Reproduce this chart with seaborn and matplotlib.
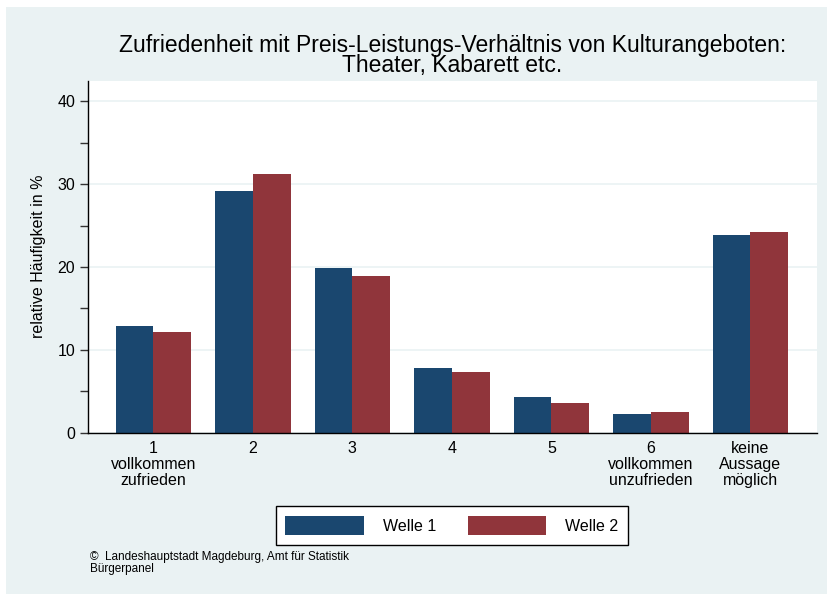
import numpy as np
import pandas as pd
import matplotlib
matplotlib.use("Agg")
import matplotlib.pyplot as plt
from matplotlib.patches import Rectangle
from matplotlib.ticker import MultipleLocator
import seaborn as sns

# Daten (relative Häufigkeit in %)
kategorien = ["1\nvollkommen\nzufrieden", "2", "3", "4", "5",
              "6\nvollkommen\nunzufrieden", "keine\nAussage\nmöglich"]
welle1 = [12.9, 29.2, 19.9, 7.8, 4.35, 2.2, 23.9]
welle2 = [12.2, 31.2, 18.9, 7.3, 3.6, 2.5, 24.2]
wellen = ["Welle 1", "Welle 2"]

df = pd.DataFrame({
    "kategorie": kategorien * 2,
    "wert": welle1 + welle2,
    "welle": [wellen[0]] * len(kategorien) + [wellen[1]] * len(kategorien),
})

bg = "#EAF2F3"
blau = "#1A476F"
rot = "#90353B"

sns.set_style("white")
plt.rcParams["font.family"] = ["Liberation Sans", "DejaVu Sans"]
plt.rcParams["text.color"] = "black"
plt.rcParams["axes.labelcolor"] = "black"
plt.rcParams["xtick.color"] = "black"
plt.rcParams["ytick.color"] = "black"

fig = plt.figure(figsize=(8.27, 5.94), dpi=100)
fig.patch.set_facecolor("white")
fig.add_artist(Rectangle((6 / 827, 0), 1, 1 - 7 / 594, transform=fig.transFigure,
                         facecolor=bg, edgecolor="none", zorder=-10))

ax = fig.add_axes([0.106, 0.2716, 0.882, 0.5925])
ax.set_facecolor("white")

sns.barplot(data=df, x="kategorie", y="wert", hue="welle", order=kategorien,
            palette=[blau, rot], width=0.757, saturation=1, ax=ax,
            edgecolor="none", linewidth=0)

ax.set_ylim(0, 42.5)
ax.set_xlim(-0.66, 6.67)
ax.yaxis.set_major_locator(MultipleLocator(10))
ax.yaxis.set_minor_locator(MultipleLocator(5))
ax.yaxis.grid(True, which="major", color=bg, linewidth=1.2)
ax.set_axisbelow(True)

for s in ["top", "right"]:
    ax.spines[s].set_visible(False)
for s in ["left", "bottom"]:
    ax.spines[s].set_color("black")
    ax.spines[s].set_linewidth(1.0)

ax.tick_params(axis="y", which="both", left=True, length=6, width=1,
               color="#333333", labelsize=11.5, pad=3)
ax.tick_params(axis="x", length=0, labelsize=11.5, pad=6)
for lbl in ax.get_xticklabels():
    lbl.set_linespacing(1.1)

ax.set_xlabel("")
ax.set_ylabel("relative Häufigkeit in %", fontsize=11.5)
ax.yaxis.set_label_coords(-0.057, 0.5)

ax.set_title("Zufriedenheit mit Preis-Leistungs-Verhältnis von Kulturangeboten:\n"
             "Theater, Kabarett etc.", fontsize=16.5, linespacing=0.85, pad=6)

handles, labels = ax.get_legend_handles_labels()
ax.get_legend().remove()
leg = fig.legend(handles, labels, loc="center", ncol=2,
                 bbox_to_anchor=(452 / 827, 1 - 525.5 / 594),
                 fontsize=11.5, handlelength=4.9, handleheight=1.5,
                 handletextpad=1.2, columnspacing=2.0, borderpad=0.6,
                 fancybox=False, frameon=True)
leg.get_frame().set_edgecolor("black")
leg.get_frame().set_linewidth(1.0)
leg.get_frame().set_facecolor("white")
leg.get_frame().set_alpha(1)

fig.text(90 / 827, 1 - 557 / 594, "©  Landeshauptstadt Magdeburg, Amt für Statistik",
         fontsize=8.5, va="center", ha="left")
fig.text(90 / 827, 1 - 569 / 594, "Bürgerpanel", fontsize=8.5, va="center", ha="left")

fig.savefig("out.png", dpi=100, facecolor=fig.get_facecolor())
